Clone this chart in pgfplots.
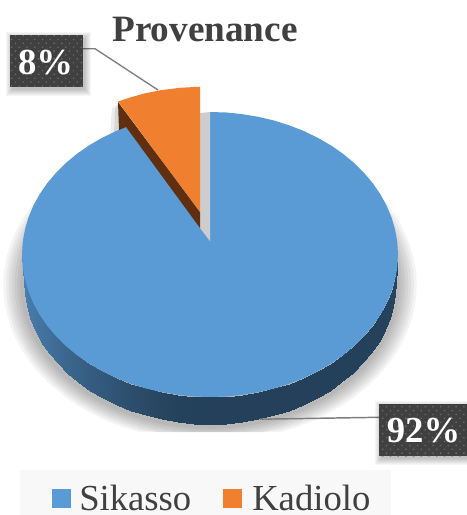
\documentclass[border=0pt]{standalone}
\usepackage{pgfplots}
\usepackage{pgfplotstable}
\usepackage{fontspec}
\setmainfont{Liberation Serif}
\usetikzlibrary{patterns.meta}
\pgfplotsset{compat=1.18}

\definecolor{sikasso}{HTML}{5B9BD5}
\definecolor{kadiolo}{HTML}{F0802F}
\definecolor{brownside}{HTML}{5F2F10}
\definecolor{wedgegrey}{HTML}{CDCDCD}
\definecolor{boxgrey}{HTML}{404040}
\definecolor{dotgrey}{HTML}{6A6A6A}
\definecolor{leader}{HTML}{7F7F7F}
\definecolor{txt}{HTML}{404040}
\definecolor{legbg}{HTML}{F8F8F8}

% pixel coordinates of the reference, y downwards
\pgfplotstableread{
x y
210 112
226.4 112.5
242.6 114.2
258.7 116.9
274.3 120.6
289.5 125.4
304 131.1
317.8 137.8
330.8 145.3
342.9 153.7
354 162.9
364 172.8
372.8 183.2
380.4 194.3
386.7 205.8
391.6 217.6
395.1 229.8
397.3 242.1
398 254.5
397.3 266.9
395.1 279.2
391.6 291.4
386.7 303.2
380.4 314.7
372.8 325.8
364 336.2
354 346.1
342.9 355.3
330.8 363.7
317.8 371.2
304 377.9
289.5 383.6
274.3 388.4
258.7 392.1
242.6 394.8
226.4 396.5
210 397
193.6 396.5
177.4 394.8
161.3 392.1
145.7 388.4
130.5 383.6
116 377.9
102.2 371.2
89.2 363.7
77.1 355.3
66 346.1
56 336.2
47.2 325.8
39.6 314.7
33.3 303.2
28.4 291.4
24.9 279.2
22.7 266.9
22 254.5
22.7 242.1
24.9 229.8
28.4 217.6
33.3 205.8
39.6 194.3
47.2 183.2
56 172.8
66 162.9
77.1 153.7
89.2 145.3
102.2 137.8
116 131.1
}\outline

% side wall, top edge then bottom edge for each step
\pgfplotstableread{
x y c
398 254.5 0.92
396 281.5 0.92
397.3 266.9 0.93
395.3 293.9 0.93
395.1 279.2 0.94
393.2 306.2 0.94
391.6 291.4 0.95
389.7 318.4 0.95
386.7 303.2 0.96
384.8 330.2 0.96
380.4 314.7 0.97
378.6 341.7 0.97
372.8 325.8 0.98
371.1 352.8 0.98
364 336.2 0.99
362.4 363.2 0.99
354 346.1 1
352.5 373.1 1
342.9 355.3 1
341.5 382.3 1
330.8 363.7 1
329.6 390.7 1
317.8 371.2 1
316.7 398.2 1
304 377.9 1
303 404.9 1
289.5 383.6 1
288.6 410.6 1
274.3 388.4 1
273.6 415.4 1
258.7 392.1 1
258.1 419.1 1
242.6 394.8 1
242.3 421.8 1
226.4 396.5 1
226.2 423.5 1
210 397 1
210 424 1
193.6 396.5 0.99
193.8 423.5 0.99
177.4 394.8 0.97
177.7 421.8 0.97
161.3 392.1 0.92
161.9 419.1 0.92
145.7 388.4 0.85
146.4 415.4 0.85
130.5 383.6 0.78
131.4 410.6 0.78
116 377.9 0.7
117 404.9 0.7
102.2 371.2 0.62
103.3 398.2 0.62
89.2 363.7 0.55
90.4 390.7 0.55
77.1 355.3 0.47
78.5 382.3 0.47
66 346.1 0.4
67.5 373.1 0.4
56 336.2 0.32
57.6 363.2 0.32
47.2 325.8 0.25
48.9 352.8 0.25
39.6 314.7 0.19
41.4 341.7 0.19
33.3 303.2 0.14
35.2 330.2 0.14
28.4 291.4 0.09
30.3 318.4 0.09
24.9 279.2 0.05
26.8 306.2 0.05
22.7 266.9 0.02
24.7 293.9 0.02
22 254.5 0
24 281.5 0
}\sidewall

\pgfplotstableread{
x y sx sy
10 35 -1 -1
83 35 1 -1
83 87 1 1
10 87 -1 1
}\boxeight

\pgfplotstableread{
x y sx sy
379 404 -1 -1
467 404 1 -1
467 456 1 1
379 456 -1 1
}\boxninety

\begin{document}
\begin{tikzpicture}
\begin{axis}[
    scale only axis,
    width=350.25pt,
    height=386.25pt,
    xmin=0, xmax=467,
    ymin=0, ymax=515,
    y dir=reverse,
    hide axis,
    colormap={side}{rgb255=(74,128,176) rgb255=(36,64,90)},
    point meta min=0,
    point meta max=1,
]
% keeps the page at full size
\addplot[draw=none, fill=white] coordinates {(0,0) (467,0) (467,515) (0,515)} --cycle;

% soft shadow under the pie
\pgfplotsinvokeforeach{1.10,1.085,1.07,1.055,1.04,1.025,1.01}{
  \addplot[draw=none, fill=black, fill opacity=0.045] table[
    x expr={210+(\thisrow{x}-210)*#1},
    y expr={min(285+(\thisrow{y}-254.5)*#1,432)}] {\outline} --cycle;
}
% shadow beside the pulled out slice
\addplot[draw=none, fill=black, fill opacity=0.07] coordinates {(118,104) (112,108) (110,136) (128,130)} --cycle;
\addplot[draw=none, fill=black, fill opacity=0.09] coordinates {(118,104) (115,110) (114,133) (128,130)} --cycle;

% side wall
\addplot[surf, shader=interp, colormap name=side, mesh/rows=37, mesh/cols=2, point meta=\thisrow{c}]
  table[x=x, y=y] {\sidewall};

% main slice 92
\addplot[draw=none, fill=sikasso] table {\outline} -- (axis cs:126,127) -- (axis cs:210,241) --cycle;

% inner wall
\addplot[draw=none, fill=wedgegrey] coordinates {(200,113) (210,112) (210,241) (200,228)} --cycle;

% slice 8 side and top
\addplot[draw=none, fill=brownside] coordinates {(118,102) (200,212) (200,228) (126,127) (119,130)} --cycle;
\addplot[draw=none, fill=kadiolo] coordinates {(118,101.5) (130,97.5) (145,93.3) (160,90.3) (180,87.8) (200,86.7) (200,212)} --cycle;

% leader lines
\addplot[leader, line width=1pt] coordinates {(83,48.7) (95,48.7) (158,90)};
\addplot[leader, line width=1.1pt] coordinates {(379,417.3) (260,419.2)};

% label boxes
\pgfplotsinvokeforeach{8,7,6,5,4,3,2}{
  \addplot[draw=none, fill=black, fill opacity=0.035] table[
    x expr={\thisrow{x}+2+\thisrow{sx}*(#1-2)},
    y expr={\thisrow{y}+3+\thisrow{sy}*(#1-2)}] {\boxeight} --cycle;
  \addplot[draw=none, fill=black, fill opacity=0.035] table[
    x expr={\thisrow{x}+2+\thisrow{sx}*(#1-2)},
    y expr={\thisrow{y}+3+\thisrow{sy}*(#1-2)}] {\boxninety} --cycle;
}
\addplot[draw=none, fill=boxgrey, postaction={pattern={Dots[distance=4.1pt, radius=0.7pt, angle=45]}, pattern color=dotgrey}]
  table {\boxeight} --cycle;
\addplot[draw=none, fill=boxgrey, postaction={pattern={Dots[distance=4.1pt, radius=0.7pt, angle=45]}, pattern color=dotgrey}]
  table {\boxninety} --cycle;

% legend
\addplot[draw=none, fill=legbg] coordinates {(20,470) (391,470) (391,515) (20,515)} --cycle;
\addplot[draw=none, fill=sikasso] coordinates {(52,489) (71,489) (71,508) (52,508)} --cycle;
\addplot[draw=none, fill=kadiolo] coordinates {(223,489) (242,489) (242,508) (223,508)} --cycle;

\node[anchor=base, inner sep=0pt, text=txt, font=\fontsize{27.9pt}{30pt}\selectfont\bfseries] at (axis cs:205,41) {Provenance};
\node[anchor=base, inner sep=0pt, text=white, font=\fontsize{27.5pt}{30pt}\selectfont\bfseries] at (axis cs:45.5,74) {8\%};
\node[anchor=base, inner sep=0pt, text=white, font=\fontsize{27.5pt}{30pt}\selectfont\bfseries] at (axis cs:423.5,442) {92\%};
\node[anchor=base west, inner sep=0pt, text=txt, font=\fontsize{27.5pt}{30pt}\selectfont] at (axis cs:79,510) {Sikasso};
\node[anchor=base west, inner sep=0pt, text=txt, font=\fontsize{27.5pt}{30pt}\selectfont] at (axis cs:252,510) {Kadiolo};
\end{axis}
\end{tikzpicture}
\end{document}
